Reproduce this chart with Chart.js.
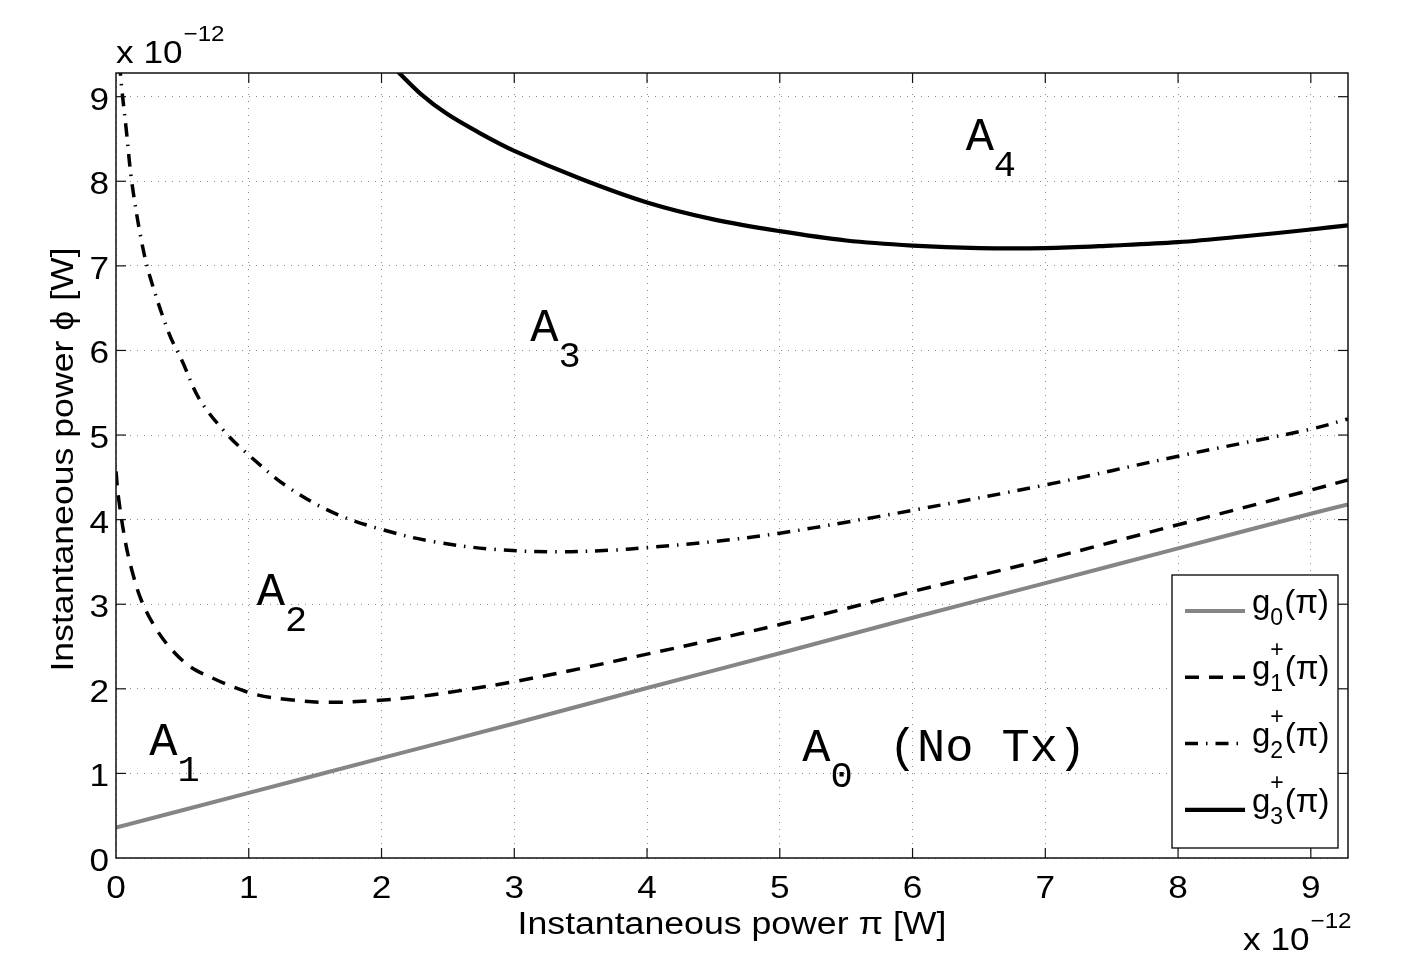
<!DOCTYPE html>
<html>
<head>
<meta charset="utf-8">
<script src="https://cdn.jsdelivr.net/npm/chart.js@4.4.0/dist/chart.umd.min.js"></script>
<style>
html,body{margin:0;padding:0;background:#fff;}
#wrap{width:1417px;height:978px;position:relative;}
</style>
</head>
<body>
<div id="wrap"><canvas id="c"></canvas></div>
<script>
// ---------- data (units of 1e-12 W) ----------
const xTickValues = [0, 1, 2, 3, 4, 5, 6, 7, 8, 9];
const yTickValues = [0, 1, 2, 3, 4, 5, 6, 7, 8, 9];
const axisMin = 0;
const axisMax = 9.28;
const exponentBase = 'x 10';
const exponentPower = '\u221212';
const xTitle = 'Instantaneous power \u03c0 [W]';
const yTitle = 'Instantaneous power \u03d5 [W]';

const g0X = [0, 1, 2, 3, 4, 5, 6, 7, 8, 9, 9.28];
const g0Y = [0.36, 0.77, 1.18, 1.59, 2.01, 2.42, 2.84, 3.25, 3.66, 4.07, 4.18];

const g1X = [0.0, 0.018, 0.068, 0.118, 0.19, 0.29, 0.41, 0.56, 0.71, 0.87, 1.06, 1.31, 1.59, 1.94, 2.29, 2.64, 3.0, 3.5, 4.0, 4.5, 5.0, 5.5, 6.0, 7.0, 8.0, 9.0, 9.28];
const g1Y = [4.57, 4.27, 3.76, 3.41, 3.05, 2.74, 2.48, 2.26, 2.14, 2.03, 1.93, 1.87, 1.84, 1.86, 1.91, 1.99, 2.085, 2.24, 2.41, 2.58, 2.76, 2.95, 3.15, 3.53, 3.94, 4.35, 4.47];

const g2X = [0.028, 0.038, 0.08, 0.118, 0.19, 0.256, 0.4, 0.5, 0.63, 0.83, 1.01, 1.29, 1.64, 2.01, 2.39, 2.84, 3.32, 3.75, 4.0, 4.5, 5.0, 5.5, 6.0, 7.0, 8.0, 9.0, 9.28];
const g2Y = [9.4, 9.18, 8.57, 8.0, 7.31, 6.87, 6.2, 5.87, 5.42, 5.02, 4.75, 4.39, 4.08, 3.88, 3.74, 3.65, 3.62, 3.64, 3.67, 3.74, 3.84, 3.97, 4.11, 4.41, 4.75, 5.07, 5.19];

const g3X = [2.02, 2.12, 2.29, 2.49, 2.74, 3.0, 3.5, 4.0, 4.5, 5.0, 5.5, 6.0, 6.5, 7.0, 7.5, 8.0, 8.5, 9.0, 9.28];
const g3Y = [9.45, 9.3, 9.04, 8.80, 8.57, 8.36, 8.03, 7.75, 7.55, 7.41, 7.30, 7.24, 7.21, 7.21, 7.24, 7.28, 7.35, 7.43, 7.48];

const legendBase = ['g', 'g', 'g', 'g'];
const legendSub = ['0', '1', '2', '3'];
const legendSup = ['', '+', '+', '+'];
const legendTail = ['(\u03c0)', '(\u03c0)', '(\u03c0)', '(\u03c0)'];

const regionMain = ['A', 'A', 'A', 'A', 'A'];
const regionSub = ['4', '3', '2', '1', '0'];
const regionTail = ['', '', '', '', '(No Tx)'];
const regionX = [6.40, 3.12, 1.06, 0.25, 5.17];
const regionY = [8.37, 6.11, 2.99, 1.22, 1.15];

// ---------- helpers ----------
const SANS = '"Liberation Sans", Arial, Helvetica, sans-serif';
const MONO = '"Liberation Mono", "Courier New", monospace';

function pts(xs, ys) { return xs.map((x, i) => ({ x: x, y: ys[i] })); }

function txt(ctx, s, x, y, size, family, align, sx) {
  sx = sx || 1;
  ctx.save();
  ctx.font = size + 'px ' + family;
  ctx.textAlign = align || 'left';
  ctx.textBaseline = 'alphabetic';
  ctx.fillStyle = '#000';
  ctx.translate(x, y);
  ctx.scale(sx, 1);
  ctx.fillText(s, 0, 0);
  const w = ctx.measureText(s).width * sx;
  ctx.restore();
  return w;
}

function seg(ctx, x1, y1, x2, y2) {
  ctx.beginPath(); ctx.moveTo(x1, y1); ctx.lineTo(x2, y2); ctx.stroke();
}

const decorPlugin = {
  id: 'decor',
  beforeDraw(chart) {
    const ctx = chart.ctx;
    ctx.save();
    ctx.fillStyle = '#fff';
    ctx.fillRect(0, 0, chart.width, chart.height);
    ctx.restore();
  },
  afterDatasetsDraw(chart) {
    const ctx = chart.ctx;
    const xs = chart.scales.x, ys = chart.scales.y;
    for (let i = 0; i < regionMain.length; i++) {
      const px = xs.getPixelForValue(regionX[i]);
      const py = ys.getPixelForValue(regionY[i]);
      const w = txt(ctx, regionMain[i], px, py, 47, MONO, 'left');
      const w2 = txt(ctx, regionSub[i], px + w, py + 26, 37, MONO, 'left');
      if (regionTail[i]) txt(ctx, regionTail[i], px + w + w2 + 36, py, 47, MONO, 'left');
    }
  },
  afterDraw(chart) {
    const ctx = chart.ctx;
    const a = chart.chartArea;
    const xs = chart.scales.x, ys = chart.scales.y;
    const TF = 32, TS = 1.1;
    ctx.save();
    ctx.strokeStyle = '#111';
    ctx.lineWidth = 1.5;
    ctx.setLineDash([]);
    ctx.strokeRect(a.left, a.top, a.right - a.left, a.bottom - a.top);
    ctx.lineWidth = 1.2;
    xs.ticks.forEach(t => {
      const p = xs.getPixelForValue(t.value);
      if (p > a.left + 1 && p < a.right - 1) {
        seg(ctx, p, a.bottom, p, a.bottom - 10);
        seg(ctx, p, a.top, p, a.top + 10);
      }
      txt(ctx, String(t.value), p, a.bottom + 40, TF, SANS, 'center', TS);
    });
    ys.ticks.forEach(t => {
      const p = ys.getPixelForValue(t.value);
      if (p > a.top + 1 && p < a.bottom - 1) {
        seg(ctx, a.left, p, a.left + 10, p);
        seg(ctx, a.right, p, a.right - 10, p);
      }
      txt(ctx, String(t.value), a.left - 7, p + 13, TF, SANS, 'right', TS);
    });
    // exponents
    let w = txt(ctx, exponentBase, a.left, a.top - 10, TF, SANS, 'left', TS);
    txt(ctx, exponentPower, a.left + w + 1, a.top - 32, 22, SANS, 'left', TS);
    w = txt(ctx, exponentBase, a.right - 105, a.bottom + 92, TF, SANS, 'left', TS);
    txt(ctx, exponentPower, a.right - 105 + w + 1, a.bottom + 70, 22, SANS, 'left', TS);
    // axis titles
    txt(ctx, xTitle, (a.left + a.right) / 2, a.bottom + 76, 31, SANS, 'center', 1.15);
    ctx.save();
    ctx.translate(73, (a.top + a.bottom) / 2 - 6);
    ctx.rotate(-Math.PI / 2);
    txt(ctx, yTitle, 0, 0, 31, SANS, 'center', 1.15);
    ctx.restore();
    // legend
    const bw = 166, bh = 273;
    const bx = a.right - 10 - bw, by = a.bottom - 10 - bh;
    ctx.fillStyle = '#fff';
    ctx.fillRect(bx, by, bw, bh);
    ctx.strokeStyle = '#000';
    ctx.lineWidth = 1.3;
    ctx.strokeRect(bx, by, bw, bh);
    chart.data.datasets.forEach((ds, i) => {
      const y = by + 36 + i * 66.3;
      ctx.save();
      ctx.strokeStyle = ds.borderColor;
      ctx.lineWidth = ds.borderWidth;
      ctx.lineCap = 'butt';
      ctx.setLineDash(ds.borderDash || []);
      seg(ctx, bx + 13, y, bx + 73, y);
      ctx.restore();
      const gx = bx + 80;
      const gw = txt(ctx, legendBase[i], gx, y + 2, 33, SANS, 'left', 1.0);
      let sw = txt(ctx, legendSub[i], gx + gw, y + 14, 23, SANS, 'left', 1.0);
      if (legendSup[i]) sw = Math.max(sw, txt(ctx, legendSup[i], gx + gw, y - 20, 23, SANS, 'left', 1.0));
      txt(ctx, legendTail[i], gx + gw + sw + 1, y + 2, 33, SANS, 'left', 1.0);
    });
    ctx.restore();
  }
};

const common = { pointRadius: 0, fill: false, tension: 0.35, borderCapStyle: 'butt', borderJoinStyle: 'round' };

new Chart(document.getElementById('c'), {
  type: 'line',
  data: {
    datasets: [
      Object.assign({ label: 'g0', data: pts(g0X, g0Y), borderColor: '#858585', borderWidth: 4, borderDash: [] }, common),
      Object.assign({ label: 'g1+', data: pts(g1X, g1Y), borderColor: '#000', borderWidth: 3.5, borderDash: [14, 10] }, common),
      Object.assign({ label: 'g2+', data: pts(g2X, g2Y), borderColor: '#000', borderWidth: 3.5, borderDash: [13, 8, 1.5, 8] }, common),
      Object.assign({ label: 'g3+', data: pts(g3X, g3Y), borderColor: '#000', borderWidth: 4.2, borderDash: [] }, common)
    ]
  },
  options: {
    responsive: true,
    maintainAspectRatio: false,
    devicePixelRatio: 1,
    animation: false,
    layout: { padding: { left: 0, top: 73, right: 69, bottom: 0 } },
    plugins: { legend: { display: false }, tooltip: { enabled: false } },
    scales: {
      x: {
        type: 'linear', min: axisMin, max: axisMax,
        afterBuildTicks(scale) { scale.ticks = xTickValues.map(v => ({ value: v })); },
        ticks: { display: false, includeBounds: false, stepSize: 1 },
        grid: { color: '#8a8a8a', lineWidth: 1, drawTicks: false },
        border: { display: false, dash: [1, 6] },
        afterFit(scale) { scale.height = 120; }
      },
      y: {
        type: 'linear', min: axisMin, max: axisMax,
        afterBuildTicks(scale) { scale.ticks = yTickValues.map(v => ({ value: v })); },
        ticks: { display: false, includeBounds: false, stepSize: 1 },
        grid: { color: '#8a8a8a', lineWidth: 1, drawTicks: false },
        border: { display: false, dash: [1, 6] },
        afterFit(scale) { scale.width = 116; }
      }
    }
  },
  plugins: [decorPlugin]
});
</script>
</body>
</html>
